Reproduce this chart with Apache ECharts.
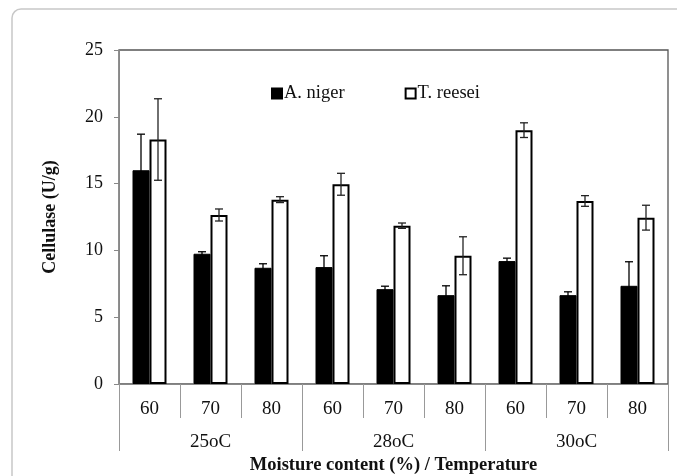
<!DOCTYPE html>
<html>
<head>
<meta charset="utf-8">
<script src="https://cdn.jsdelivr.net/npm/echarts@6/dist/echarts.min.js"></script>
<style>
  html, body { margin: 0; padding: 0; background: #fff; }
  #chart { width: 677px; height: 476px; }
</style>
</head>
<body>
<div id="chart"></div>
<script>
// Moisture content (%) within each incubation temperature
const moistureLabels = ['60', '70', '80', '60', '70', '80', '60', '70', '80'];
const temperatureLabels = ['25oC', '28oC', '30oC'];

// Cellulase activity (U/g) and standard deviations
const anigerValues = [16.0, 9.75, 8.7, 8.75, 7.1, 6.65, 9.2, 6.65, 7.35];
const anigerErrors = [2.7, 0.15, 0.3, 0.85, 0.22, 0.7, 0.22, 0.25, 1.8];
const treeseiValues = [18.3, 12.65, 13.8, 14.95, 11.85, 9.6, 19.0, 13.7, 12.45];
const treeseiErrors = [3.05, 0.45, 0.22, 0.82, 0.2, 1.42, 0.55, 0.4, 0.93];

const yTicks = [0, 5, 10, 15, 20, 25];

const FONT = 'Liberation Serif';
const BAR_W = 17;

// Symmetric error bars with caps, centred on a bar of the given offset
function errorSeries(values, errors, offset, color) {
  return {
    type: 'custom',
    xAxisIndex: 0,
    yAxisIndex: 0,
    silent: true,
    z: 5,
    data: values.map((v, i) => [i, v, errors[i]]),
    encode: { x: 0, y: 1 },
    renderItem: function (params, api) {
      const i = api.value(0);
      const v = api.value(1);
      const e = api.value(2);
      const hi = api.coord([i, v + e]);
      const lo = api.coord([i, v - e]);
      const x = hi[0] + offset;
      const cap = 4;
      const style = { stroke: color, lineWidth: 1.3 };
      return {
        type: 'group',
        children: [
          { type: 'line', shape: { x1: x, y1: hi[1], x2: x, y2: lo[1] }, style: style },
          { type: 'line', shape: { x1: x - cap, y1: hi[1], x2: x + cap, y2: hi[1] }, style: style },
          { type: 'line', shape: { x1: x - cap, y1: lo[1], x2: x + cap, y2: lo[1] }, style: style }
        ]
      };
    }
  };
}

const chart = echarts.init(document.getElementById('chart'));
chart.setOption({
  animation: false,
  backgroundColor: '#fff',
  textStyle: { fontFamily: FONT },
  graphic: [{
    type: 'rect',
    shape: { x: 12, y: 9, width: 700, height: 500, r: 9 },
    style: { fill: 'none', stroke: '#c8c8c8', lineWidth: 1.5 },
    silent: true
  }],
  grid: {
    left: 119, right: 9, top: 50, bottom: 92,
    outerBoundsMode: 'none',
    containLabel: false,
    show: true, borderColor: '#555', borderWidth: 1.3
  },
  legend: {
    top: 79,
    left: 266,
    itemGap: 60,
    itemWidth: 10,
    itemHeight: 10,
    textStyle: { fontFamily: FONT, fontSize: 18.5, color: '#111', padding: [0, 0, 0, -3] },
    data: [
      { name: 'A. niger', icon: 'rect' },
      { name: 'T. reesei', icon: 'rect' }
    ]
  },
  xAxis: [{
    type: 'category',
    data: moistureLabels,
    position: 'bottom',
    axisLine: { show: true, lineStyle: { color: '#888', width: 1 } },
    axisTick: { show: true, length: 34, lineStyle: { color: '#999' } },
    axisLabel: { fontFamily: FONT, fontSize: 19, color: '#111', margin: 16 },
    name: 'Moisture content (%) / Temperature',
    nameLocation: 'middle',
    nameGap: 72,
    nameTextStyle: { fontFamily: FONT, fontSize: 18.5, fontWeight: 'bold', color: '#111' }
  }, {
    type: 'category',
    data: temperatureLabels,
    position: 'bottom',
    axisLine: { show: false },
    axisTick: { show: true, length: 67, lineStyle: { color: '#999' } },
    axisLabel: { fontFamily: FONT, fontSize: 19, color: '#111', margin: 49 }
  }],
  yAxis: {
    type: 'value',
    min: 0,
    max: 25,
    interval: 5,
    axisLine: { show: true, lineStyle: { color: '#888', width: 1 } },
    axisTick: { show: true, length: 5, lineStyle: { color: '#888' } },
    splitLine: { show: false },
    axisLabel: {
      fontFamily: FONT, fontSize: 18, color: '#111', margin: 16,
      formatter: function (v) { return yTicks.indexOf(v) >= 0 ? String(v) : ''; }
    },
    name: 'Cellulase (U/g)',
    nameLocation: 'middle',
    nameGap: 60,
    nameTextStyle: { fontFamily: FONT, fontSize: 18, fontWeight: 'bold', color: '#111' }
  },
  series: [{
    name: 'A. niger',
    type: 'bar',
    data: anigerValues,
    barWidth: BAR_W,
    barGap: '0%',
    itemStyle: { color: '#000', borderColor: '#000', borderWidth: 1 }
  }, {
    name: 'T. reesei',
    type: 'bar',
    data: treeseiValues,
    barWidth: BAR_W,
    barGap: '0%',
    itemStyle: { color: '#fff', borderColor: '#000', borderWidth: 2 }
  },
  errorSeries(anigerValues, anigerErrors, -BAR_W / 2, '#000'),
  errorSeries(treeseiValues, treeseiErrors, BAR_W / 2, '#222')
  ]
});
</script>
</body>
</html>
